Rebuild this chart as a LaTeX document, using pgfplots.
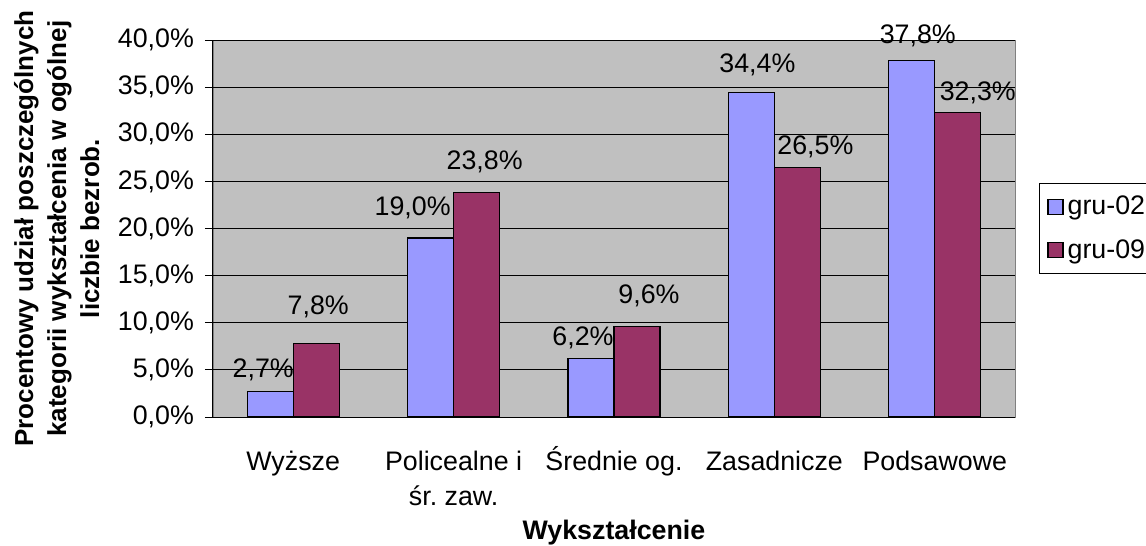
\documentclass[border=0pt]{standalone}
\usepackage{pgfplots}
\usepackage{pgfplotstable}
\pgfplotsset{compat=1.18}
\usepackage{fontspec}
\setmainfont{Liberation Sans}
\definecolor{barblue}{HTML}{9999FF}
\definecolor{barplum}{HTML}{993366}
\definecolor{plotgray}{HTML}{C0C0C0}
% x = category index, y = share in %, dx/dy = label offset (pt) as placed in the original
\pgfplotstableread{
x y    dx   dy
0 2.7  -3.5 11
1 19.0 -9   15
2 6.2  -4   10.5
3 34.4 3    14
4 37.8 3    12.5
}\grutwo
\pgfplotstableread{
x y    dx   dy
0 7.8  1    18.5
1 23.8 4    15.5
2 9.6  6    15.5
3 26.5 9    10
4 32.3 10   10
}\grunine
\pgfplotsset{
  shiftedlabels/.style={
    visualization depends on={\thisrow{dx} \as \labdx},
    visualization depends on={\thisrow{dy} \as \labdy},
    nodes near coords={\pgfmathprintnumber[fixed,fixed zerofill,precision=1,use comma,assume math mode=true]{\pgfplotspointmeta}\%},
    nodes near coords style={font=\fontsize{13.4}{15}\selectfont, text=black, anchor=center, xshift=\labdx pt, yshift=\labdy pt},
  },
}
\begin{document}
\begin{tikzpicture}
\path[use as bounding box] (-106.5pt,-64.5pt) rectangle (466.5pt,208.5pt);
\begin{axis}[
  scale only axis,
  width=401pt, height=188.5pt,
  ybar=0pt,
  bar width=23pt,
  xmin=-0.5, xmax=4.5,
  ymin=0, ymax=40,
  axis background/.style={fill=plotgray, draw=gray},
  xtick={0,1,2,3,4},
  xticklabels={\vphantom{Ś}Wyższe, {\vphantom{Ś}Policealne i\\śr.\ zaw.}, Średnie og., \vphantom{Ś}Zasadnicze, \vphantom{Ś}Podsawowe},
  major x tick style={draw=none},
  extra x ticks={-0.5,0.5,1.5,2.5,3.5,4.5},
  extra x tick labels={},
  extra x tick style={major tick length=8pt, tick align=outside, tick style={black}, grid=none},
  ytick={0,5,...,40},
  tick align=outside,
  major tick length=4pt,
  tick style={black, line width=0.5pt},
  ymajorgrids,
  grid style={black, line width=0.5pt},
  axis line style={black, line width=0.5pt},
  axis x line*=bottom,
  axis y line*=left,
  /pgf/number format/assume math mode=true,
  yticklabel={\pgfmathprintnumber[fixed,fixed zerofill,precision=1,use comma]{\tick}\%},
  yticklabel style={font=\fontsize{13.4}{15}\selectfont, xshift=-2pt},
  xticklabel style={font=\fontsize{13.4}{17.5}\selectfont, align=center, yshift=-7pt},
  ylabel={Procentowy udział poszczególnych\\kategorii wykształcenia w ogólnej\\liczbie bezrob.},
  ylabel style={font=\bfseries\fontsize{13}{16.5}\selectfont, align=center, at={(axis description cs:-0.195,0.5)}, anchor=center},
  xlabel={Wykształcenie},
  xlabel style={font=\bfseries\fontsize{13.4}{15}\selectfont, at={(axis description cs:0.5,0)}, anchor=center, yshift=-58pt},
  legend style={at={(rel axis cs:1.03,0.5)}, anchor=west, draw=black, fill=white,
    font=\fontsize{13.4}{15}\selectfont, row sep=7pt, inner sep=4pt},
  legend image code/.code={\draw[#1, draw=black] (0pt,-3.75pt) rectangle (7.5pt,3.75pt);},
]
\addplot[fill=barblue, draw=black, line width=0.6pt, shiftedlabels] table[x=x, y=y] {\grutwo};
\addlegendentry{gru-02}
\addplot[fill=barplum, draw=black, line width=0.6pt, shiftedlabels] table[x=x, y=y] {\grunine};
\addlegendentry{gru-09}
\end{axis}
\end{tikzpicture}
\end{document}
